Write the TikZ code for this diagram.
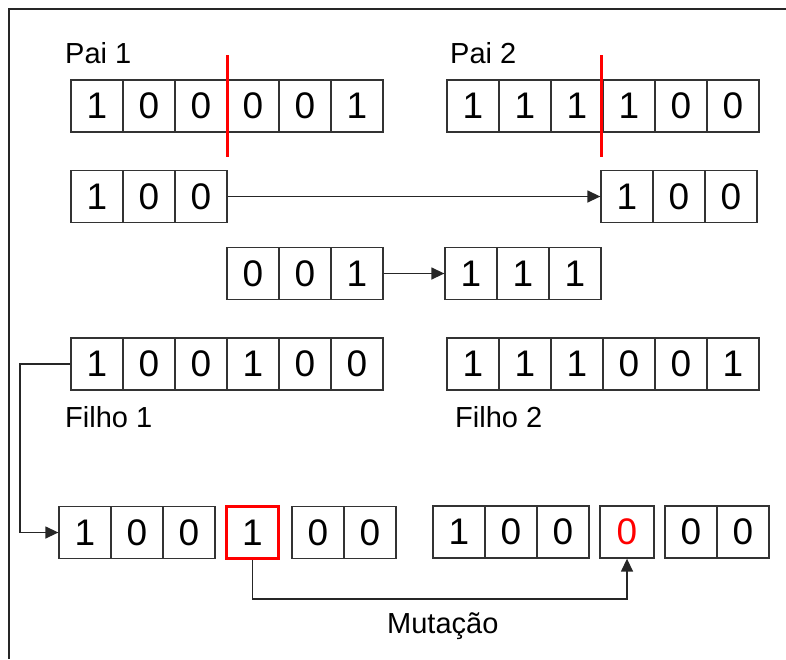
\documentclass[tikz,border=0pt]{standalone}
\usepackage{fontspec}
\setmainfont{Liberation Sans}
\usetikzlibrary{arrows.meta}
\newcommand{\cellrow}[5]{%
  \foreach \d [count=\i] in {#5} {%
    \node[cell] (#1-\i) at ({#2+(\i-0.5)*52},{#3}) {\d};}}
\begin{document}
\begin{tikzpicture}[x=1pt,y=-1pt,
  cell/.style={draw=black!80, line width=1.3pt, minimum width=52pt, minimum height=52pt,
    inner sep=0pt, font=\fontsize{37}{40}\selectfont},
  lbl/.style={anchor=base west, inner sep=0pt, font=\fontsize{29}{32}\selectfont},
  arr/.style={draw=black!85, line width=1.4pt, -{Triangle[length=13pt,width=12pt]}},
  cut/.style={red, line width=3pt},
  frame/.style={black!85, line width=2pt}]
\useasboundingbox (0,0) rectangle (786,659);
% frame
\draw[frame] (786,8.5) -- (9,8.5) -- (9,659);
% row 1: parents
\node[lbl] (pai1) at (65,63) {Pai 1};
\node[lbl] (pai2) at (450,63) {Pai 2};
\cellrow{pa}{71}{106}{52}{1,0,0,0,0,1}
\cellrow{pb}{447}{106}{52}{1,1,1,1,0,0}
\draw[cut] (227,55) -- (227,157);
\draw[cut] (601,55) -- (601,157);
% row 2
\cellrow{ra}{71}{196.5}{52}{1,0,0}
\cellrow{rb}{601}{196.5}{52}{1,0,0}
\draw[arr] (ra-3.east) -- (rb-1.west);
% row 3
\cellrow{sa}{227}{273.5}{52}{0,0,1}
\cellrow{sb}{445}{273.5}{52}{1,1,1}
\draw[arr] (sa-3.east) -- (sb-1.west);
% row 4: children
\cellrow{fa}{71}{364}{52}{1,0,0,1,0,0}
\cellrow{fb}{447}{364}{52}{1,1,1,0,0,1}
\node[lbl] (filho1) at (65,427) {Filho 1};
\node[lbl] (filho2) at (455,427) {Filho 2};
% row 5: mutation
\cellrow{ma}{59}{532.5}{52}{1,0,0}
\node[cell, draw=red, line width=3pt] (mx) at (252.5,532.5) {1};
\cellrow{mb}{292}{532.5}{52}{0,0}
\cellrow{na}{433}{532}{52}{1,0,0}
\node[cell, minimum width=54pt, text=red] (ny) at (627,532) {0};
\cellrow{nb}{665}{532}{52}{0,0}
% connectors
\coordinate (bend) at (20,450);
\draw[arr] (fa-1.west) -- (bend |- fa-1.west) |- (ma-1.west);
\coordinate (low) at (450,599);
\draw[arr] (mx.south) -- (mx.south |- low) -| (ny.south);
\node[lbl] (mut) at (387,633) {Mutação};
\end{tikzpicture}
\end{document}
